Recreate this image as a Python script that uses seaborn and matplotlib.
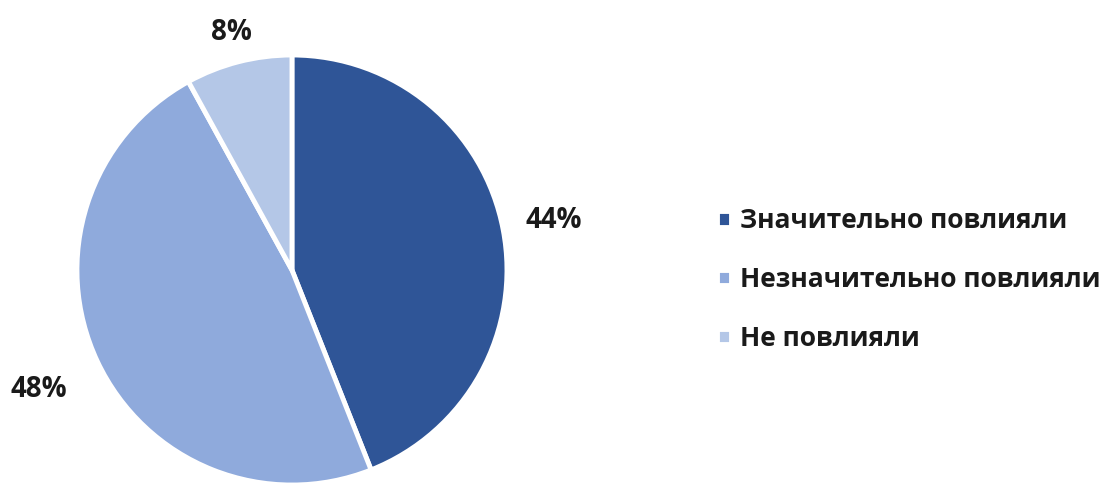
import matplotlib
matplotlib.use('Agg')
import matplotlib.pyplot as plt
import numpy as np
import seaborn as sns

# Data
labels = ['Значительно повлияли', 'Незначительно повлияли', 'Не повлияли']
shares = [44, 48, 8]
colors = ['#2F5597', '#8FAADC', '#B4C7E7']
label_dist = [1.24, 1.30, 1.14]   # how far each percent label sits from the centre

sns.set_theme(style='white')
plt.rcParams['font.family'] = ['Open Sans', 'DejaVu Sans']

fig = plt.figure(figsize=(11.15, 4.92), dpi=100)
ax = fig.add_axes([0.069, 0.0142, 0.3857, 0.874])

wedges, texts, autotexts = ax.pie(
    shares, colors=colors, startangle=90, counterclock=False,
    autopct='%d%%', pctdistance=1.25,
    wedgeprops=dict(edgecolor='white', linewidth=3.5),
    textprops=dict(fontsize=20, fontweight='bold', color='#1a1a1a'))

# push each label out to its own distance along the wedge's mid angle
for w, t, d in zip(wedges, autotexts, label_dist):
    mid = np.deg2rad((w.theta1 + w.theta2) / 2)
    t.set_position((d * np.cos(mid), d * np.sin(mid)))

ax.set_xlim(-1, 1)
ax.set_ylim(-1, 1)
ax.set_aspect('equal')

leg = fig.legend(wedges, labels, loc='center left', bbox_to_anchor=(0.643, 0.432),
                 frameon=False, handlelength=0.52, handleheight=0.52,
                 handletextpad=0.36, labelspacing=1.2, borderpad=0,
                 borderaxespad=0, prop=dict(size=19, weight='bold'))
for t in leg.get_texts():
    t.set_color('#1a1a1a')

fig.savefig('out.png', dpi=100)
